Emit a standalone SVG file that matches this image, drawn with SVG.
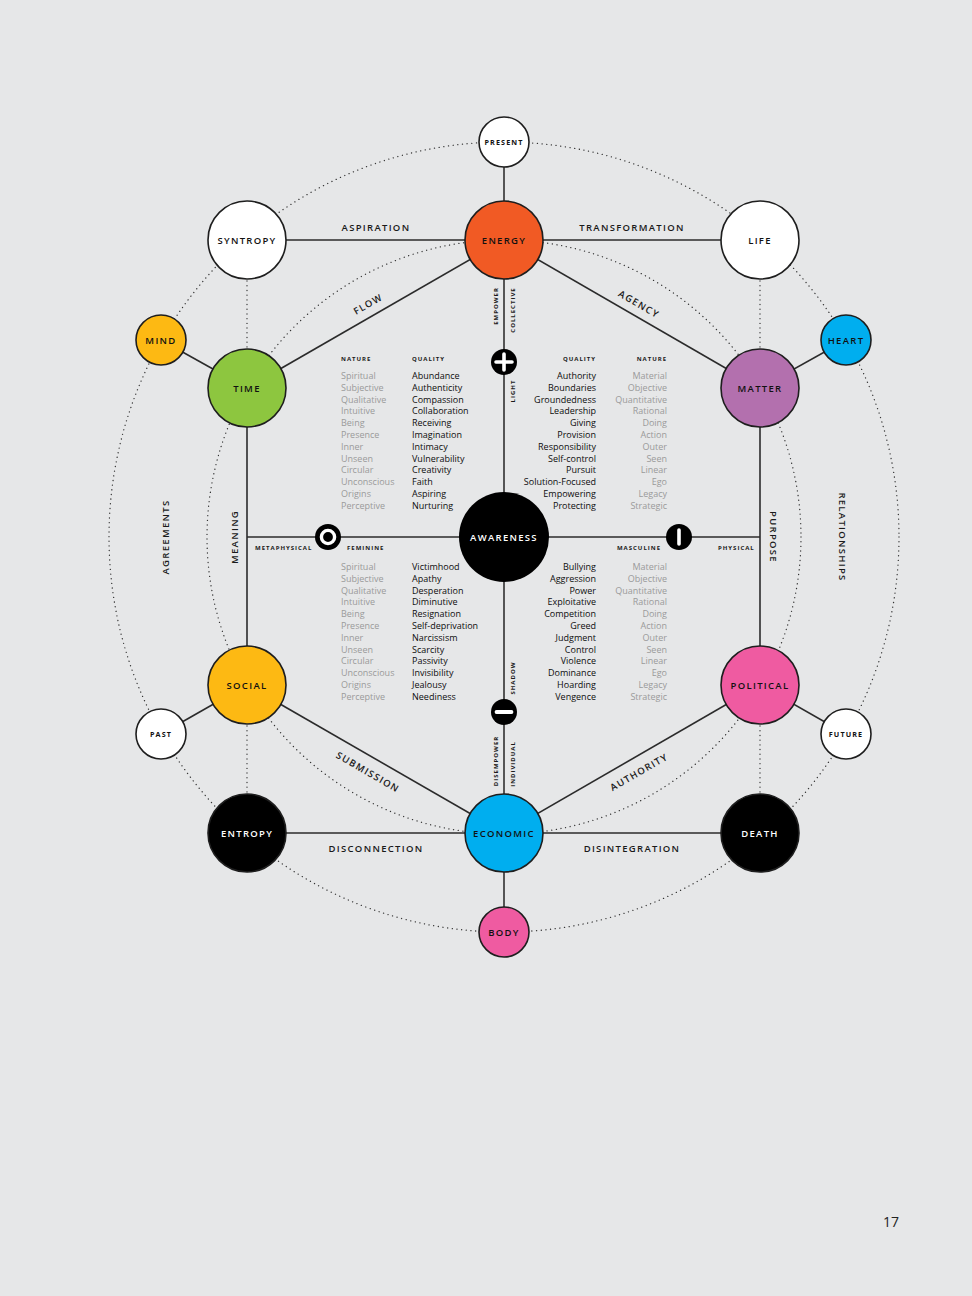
<svg xmlns="http://www.w3.org/2000/svg" width="972" height="1296" viewBox="0 0 972 1296">
<style>
text{font-family:"Open Sans","Noto Sans","Liberation Sans",sans-serif}
.bg{fill:#e6e7e8}
.ln{stroke:#2b2b2b;stroke-width:1.6;fill:none}
.vl{stroke:#555;stroke-width:2;fill:none}
.dot{stroke:#333;stroke-width:1.3;fill:none;stroke-linecap:round;stroke-dasharray:0.1 4.6}
.nd{stroke:#1e1e1e;stroke-width:1.6}
.nl{font-size:9.5px;font-weight:600;letter-spacing:1.3px;text-anchor:middle}
.sl{font-size:7.2px;font-weight:700;letter-spacing:1.1px;text-anchor:middle}
.el{font-size:9.5px;font-weight:600;letter-spacing:1.3px;text-anchor:middle;fill:#1a1a1a}
.hd{font-size:6px;font-weight:700;letter-spacing:1px;fill:#1a1a1a}
.vt{font-size:6px;font-weight:700;letter-spacing:1px;text-anchor:middle;fill:#1a1a1a}
.q{font-size:9px;font-weight:500;fill:#0d0d0d}
.n{font-size:9px;fill:#9a9a9a}
.w{fill:#fff}
.k{fill:#111}
</style>
<rect class="bg" x="0" y="0" width="972" height="1296"/>

<g id="dotted">
<circle class="dot" cx="504" cy="537" r="395"/>
<circle class="dot" cx="504" cy="537" r="297"/>
<line class="dot" x1="247" y1="281" x2="247" y2="348"/>
<line class="dot" x1="760" y1="281" x2="760" y2="348"/>
<line class="dot" x1="247" y1="726" x2="247" y2="793"/>
<line class="dot" x1="760" y1="726" x2="760" y2="793"/>
</g>

<g id="connectors">
<line class="vl" x1="504" y1="142" x2="504" y2="932"/>
<line class="ln" x1="247" y1="537" x2="760" y2="537"/>
<line class="ln" x1="247" y1="240" x2="760" y2="240"/>
<line class="ln" x1="247" y1="833" x2="760" y2="833"/>
<line class="ln" x1="504" y1="240" x2="247" y2="388"/>
<line class="ln" x1="504" y1="240" x2="760" y2="388"/>
<line class="ln" x1="504" y1="833" x2="247" y2="685"/>
<line class="ln" x1="504" y1="833" x2="760" y2="685"/>
<line class="ln" x1="247" y1="388" x2="247" y2="685"/>
<line class="ln" x1="760" y1="388" x2="760" y2="685"/>
<line class="ln" x1="161" y1="340" x2="247" y2="388"/>
<line class="ln" x1="846" y1="340" x2="760" y2="388"/>
<line class="ln" x1="161" y1="734" x2="247" y2="685"/>
<line class="ln" x1="846" y1="734" x2="760" y2="685"/>
</g>

<g id="edge-labels">
<text class="el" x="376" y="231">ASPIRATION</text>
<text class="el" x="632" y="231">TRANSFORMATION</text>
<text class="el" transform="translate(368,304) rotate(-30)" y="3.5">FLOW</text>
<text class="el" transform="translate(639,304) rotate(30)" y="3.5">AGENCY</text>
<text class="el" transform="translate(368,772) rotate(30)" y="3.5">SUBMISSION</text>
<text class="el" transform="translate(639,772) rotate(-30)" y="3.5">AUTHORITY</text>
<text class="el" x="376" y="852">DISCONNECTION</text>
<text class="el" x="632" y="852">DISINTEGRATION</text>
<text class="el" transform="translate(165,537) rotate(-90)" y="3.5">AGREEMENTS</text>
<text class="el" transform="translate(234,537) rotate(-90)" y="3.5">MEANING</text>
<text class="el" transform="translate(773,537) rotate(90)" y="3.5">PURPOSE</text>
<text class="el" transform="translate(842,537) rotate(90)" y="3.5">RELATIONSHIPS</text>
<text class="vt" transform="translate(496,306) rotate(-90)" y="2">EMPOWER</text>
<text class="vt" transform="translate(513,310) rotate(-90)" y="2">COLLECTIVE</text>
<text class="vt" transform="translate(513,391) rotate(-90)" y="2">LIGHT</text>
<text class="vt" transform="translate(513,678) rotate(-90)" y="2">SHADOW</text>
<text class="vt" transform="translate(496,761) rotate(-90)" y="2">DISEMPOWER</text>
<text class="vt" transform="translate(513,764) rotate(-90)" y="2">INDIVIDUAL</text>
<text class="hd" x="255" y="549.5">METAPHYSICAL</text>
<text class="hd" x="347" y="549.5">FEMININE</text>
<text class="hd" x="661" y="549.5" text-anchor="end">MASCULINE</text>
<text class="hd" x="718" y="549.5">PHYSICAL</text>
</g>

<g id="lists">
<text class="hd" x="341" y="361">NATURE</text>
<text class="hd" x="412" y="361">QUALITY</text>
<text class="hd" x="596" y="361" text-anchor="end">QUALITY</text>
<text class="hd" x="667" y="361" text-anchor="end">NATURE</text>
<text class="n" x="341" y="379"><tspan x="341" dy="0">Spiritual</tspan><tspan x="341" dy="11.8">Subjective</tspan><tspan x="341" dy="11.8">Qualitative</tspan><tspan x="341" dy="11.8">Intuitive</tspan><tspan x="341" dy="11.8">Being</tspan><tspan x="341" dy="11.8">Presence</tspan><tspan x="341" dy="11.8">Inner</tspan><tspan x="341" dy="11.8">Unseen</tspan><tspan x="341" dy="11.8">Circular</tspan><tspan x="341" dy="11.8">Unconscious</tspan><tspan x="341" dy="11.8">Origins</tspan><tspan x="341" dy="11.8">Perceptive</tspan></text>
<text class="q" x="412" y="379"><tspan x="412" dy="0">Abundance</tspan><tspan x="412" dy="11.8">Authenticity</tspan><tspan x="412" dy="11.8">Compassion</tspan><tspan x="412" dy="11.8">Collaboration</tspan><tspan x="412" dy="11.8">Receiving</tspan><tspan x="412" dy="11.8">Imagination</tspan><tspan x="412" dy="11.8">Intimacy</tspan><tspan x="412" dy="11.8">Vulnerability</tspan><tspan x="412" dy="11.8">Creativity</tspan><tspan x="412" dy="11.8">Faith</tspan><tspan x="412" dy="11.8">Aspiring</tspan><tspan x="412" dy="11.8">Nurturing</tspan></text>
<text class="q" x="596" y="379" text-anchor="end"><tspan x="596" dy="0">Authority</tspan><tspan x="596" dy="11.8">Boundaries</tspan><tspan x="596" dy="11.8">Groundedness</tspan><tspan x="596" dy="11.8">Leadership</tspan><tspan x="596" dy="11.8">Giving</tspan><tspan x="596" dy="11.8">Provision</tspan><tspan x="596" dy="11.8">Responsibility</tspan><tspan x="596" dy="11.8">Self-control</tspan><tspan x="596" dy="11.8">Pursuit</tspan><tspan x="596" dy="11.8">Solution-Focused</tspan><tspan x="596" dy="11.8">Empowering</tspan><tspan x="596" dy="11.8">Protecting</tspan></text>
<text class="n" x="667" y="379" text-anchor="end"><tspan x="667" dy="0">Material</tspan><tspan x="667" dy="11.8">Objective</tspan><tspan x="667" dy="11.8">Quantitative</tspan><tspan x="667" dy="11.8">Rational</tspan><tspan x="667" dy="11.8">Doing</tspan><tspan x="667" dy="11.8">Action</tspan><tspan x="667" dy="11.8">Outer</tspan><tspan x="667" dy="11.8">Seen</tspan><tspan x="667" dy="11.8">Linear</tspan><tspan x="667" dy="11.8">Ego</tspan><tspan x="667" dy="11.8">Legacy</tspan><tspan x="667" dy="11.8">Strategic</tspan></text>
<text class="n" x="341" y="570"><tspan x="341" dy="0">Spiritual</tspan><tspan x="341" dy="11.8">Subjective</tspan><tspan x="341" dy="11.8">Qualitative</tspan><tspan x="341" dy="11.8">Intuitive</tspan><tspan x="341" dy="11.8">Being</tspan><tspan x="341" dy="11.8">Presence</tspan><tspan x="341" dy="11.8">Inner</tspan><tspan x="341" dy="11.8">Unseen</tspan><tspan x="341" dy="11.8">Circular</tspan><tspan x="341" dy="11.8">Unconscious</tspan><tspan x="341" dy="11.8">Origins</tspan><tspan x="341" dy="11.8">Perceptive</tspan></text>
<text class="q" x="412" y="570"><tspan x="412" dy="0">Victimhood</tspan><tspan x="412" dy="11.8">Apathy</tspan><tspan x="412" dy="11.8">Desperation</tspan><tspan x="412" dy="11.8">Diminutive</tspan><tspan x="412" dy="11.8">Resignation</tspan><tspan x="412" dy="11.8">Self-deprivation</tspan><tspan x="412" dy="11.8">Narcissism</tspan><tspan x="412" dy="11.8">Scarcity</tspan><tspan x="412" dy="11.8">Passivity</tspan><tspan x="412" dy="11.8">Invisibility</tspan><tspan x="412" dy="11.8">Jealousy</tspan><tspan x="412" dy="11.8">Neediness</tspan></text>
<text class="q" x="596" y="570" text-anchor="end"><tspan x="596" dy="0">Bullying</tspan><tspan x="596" dy="11.8">Aggression</tspan><tspan x="596" dy="11.8">Power</tspan><tspan x="596" dy="11.8">Exploitative</tspan><tspan x="596" dy="11.8">Competition</tspan><tspan x="596" dy="11.8">Greed</tspan><tspan x="596" dy="11.8">Judgment</tspan><tspan x="596" dy="11.8">Control</tspan><tspan x="596" dy="11.8">Violence</tspan><tspan x="596" dy="11.8">Dominance</tspan><tspan x="596" dy="11.8">Hoarding</tspan><tspan x="596" dy="11.8">Vengence</tspan></text>
<text class="n" x="667" y="570" text-anchor="end"><tspan x="667" dy="0">Material</tspan><tspan x="667" dy="11.8">Objective</tspan><tspan x="667" dy="11.8">Quantitative</tspan><tspan x="667" dy="11.8">Rational</tspan><tspan x="667" dy="11.8">Doing</tspan><tspan x="667" dy="11.8">Action</tspan><tspan x="667" dy="11.8">Outer</tspan><tspan x="667" dy="11.8">Seen</tspan><tspan x="667" dy="11.8">Linear</tspan><tspan x="667" dy="11.8">Ego</tspan><tspan x="667" dy="11.8">Legacy</tspan><tspan x="667" dy="11.8">Strategic</tspan></text>
</g>

<g id="present"><circle class="nd" cx="504" cy="142" r="25" fill="#fff"/><text class="sl k" x="504" y="144.6">PRESENT</text></g>
<g id="energy"><circle class="nd" cx="504" cy="240" r="39" fill="#f15a24"/><text class="nl k" x="504" y="243.5">ENERGY</text></g>
<g id="syntropy"><circle class="nd" cx="247" cy="240" r="39" fill="#fff"/><text class="nl k" x="247" y="243.5">SYNTROPY</text></g>
<g id="life"><circle class="nd" cx="760" cy="240" r="39" fill="#fff"/><text class="nl k" x="760" y="243.5">LIFE</text></g>
<g id="mind"><circle class="nd" cx="161" cy="340" r="25" fill="#fdb913"/><text class="nl k" x="161" y="343.5">MIND</text></g>
<g id="heart"><circle class="nd" cx="846" cy="340" r="25" fill="#00aeef"/><text class="nl k" x="846" y="343.5">HEART</text></g>
<g id="time"><circle class="nd" cx="247" cy="388" r="39" fill="#8dc63f"/><text class="nl k" x="247" y="391.5">TIME</text></g>
<g id="matter"><circle class="nd" cx="760" cy="388" r="39" fill="#b370ae"/><text class="nl k" x="760" y="391.5">MATTER</text></g>
<g id="awareness"><circle cx="504" cy="537" r="45" fill="#000"/><text class="nl w" x="504" y="540.5">AWARENESS</text></g>
<g id="social"><circle class="nd" cx="247" cy="685" r="39" fill="#fdb913"/><text class="nl k" x="247" y="688.5">SOCIAL</text></g>
<g id="political"><circle class="nd" cx="760" cy="685" r="39" fill="#ef5ba1"/><text class="nl k" x="760" y="688.5">POLITICAL</text></g>
<g id="past"><circle class="nd" cx="161" cy="734" r="25" fill="#fff"/><text class="sl k" x="161" y="736.6">PAST</text></g>
<g id="future"><circle class="nd" cx="846" cy="734" r="25" fill="#fff"/><text class="sl k" x="846" y="736.6">FUTURE</text></g>
<g id="entropy"><circle class="nd" cx="247" cy="833" r="39" fill="#000"/><text class="nl w" x="247" y="836.5">ENTROPY</text></g>
<g id="economic"><circle class="nd" cx="504" cy="833" r="39" fill="#00aeef"/><text class="nl k" x="504" y="836.5">ECONOMIC</text></g>
<g id="death"><circle class="nd" cx="760" cy="833" r="39" fill="#000"/><text class="nl w" x="760" y="836.5">DEATH</text></g>
<g id="body"><circle class="nd" cx="504" cy="932" r="25" fill="#ef5ba1"/><text class="nl k" x="504" y="935.5">BODY</text></g>

<g id="symbol-plus"><circle cx="504" cy="362" r="13" fill="#000"/><path d="M504 354v16M496 362h16" stroke="#fff" stroke-width="3.6" stroke-linecap="round"/></g>
<g id="symbol-minus"><circle cx="504" cy="712" r="13" fill="#000"/><path d="M496.5 712h15" stroke="#fff" stroke-width="3.8" stroke-linecap="round"/></g>
<g id="symbol-ring"><circle cx="328" cy="537" r="13" fill="#000"/><circle cx="328" cy="537" r="6.6" fill="none" stroke="#fff" stroke-width="3.4"/></g>
<g id="symbol-bar"><circle cx="679" cy="537" r="13" fill="#000"/><path d="M679 530v14" stroke="#fff" stroke-width="3.6" stroke-linecap="round"/></g>

<text x="891" y="1227" font-size="14" fill="#222" text-anchor="middle">17</text>
</svg>
